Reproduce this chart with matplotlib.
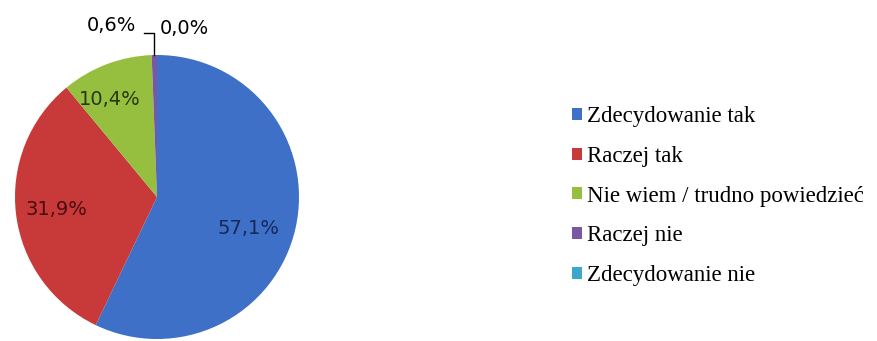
import numpy as np
import matplotlib.pyplot as plt
from matplotlib.patches import Patch

# survey answers and their shares (%)
answers = ['Zdecydowanie tak', 'Raczej tak', 'Nie wiem / trudno powiedzieć',
           'Raczej nie', 'Zdecydowanie nie']
shares = [57.1, 31.9, 10.4, 0.6, 0.0]
colors = ['#3d70c6', '#c8393a', '#97bf3f', '#7a57a3', '#3ba8ca']
label_colors = ['#16295a', '#4a0d0d', '#26380c', '#000000', '#000000']

fig = plt.figure(figsize=(8.77, 3.41), dpi=100)
fig.patch.set_facecolor('white')

# pie axes: centre ~ (157, 197) px from top, radius ~142 px
W, H = 877, 341
cx, cy, r = 157, 197, 142
ax = fig.add_axes([(cx - r) / W, (H - cy - r) / H, 2 * r / W, 2 * r / H])

wedges, _ = ax.pie(shares, colors=colors, startangle=90, counterclock=False,
                   radius=1, wedgeprops=dict(linewidth=0))
ax.set_xlim(-1, 1)
ax.set_ylim(-1, 1)
ax.set_aspect('equal')
ax.axis('off')

def fmt(v):
    return ('%.1f%%' % v).replace('.', ',')

# labels inside the three big slices (distance from centre, angle nudge)
dists = [0.68, 0.71, 0.76]
nudge = [-6, 0, 5]
for i in range(3):
    w = wedges[i]
    ang = np.deg2rad((w.theta1 + w.theta2) / 2 + nudge[i])
    ax.text(dists[i] * np.cos(ang), dists[i] * np.sin(ang), fmt(shares[i]),
            ha='center', va='center', fontsize=14, color=label_colors[i],
            family='DejaVu Sans')

# the two tiny slices get outside labels, one with a leader line
w = wedges[3]
ang = np.deg2rad((w.theta1 + w.theta2) / 2)
x0 = np.cos(ang)
ax.plot([x0, x0, -0.095], [1.0, 1.155, 1.155], color='black', lw=1,
        clip_on=False)
ax.text(-0.15, 1.205, fmt(shares[3]), ha='right', va='center', fontsize=14,
        color='black', family='DejaVu Sans')
ax.text(0.02, 1.19, fmt(shares[4]), ha='left', va='center', fontsize=14,
        color='black', family='DejaVu Sans')

handles = [Patch(facecolor=c, edgecolor='none') for c in colors]
fig.legend(handles, answers, loc='upper left',
           bbox_to_anchor=(572 / W, 1 - 106 / H),
           frameon=False, prop={'family': 'Liberation Serif', 'size': 16.5},
           handlelength=0.42, handleheight=0.42, handletextpad=0.25,
           labelspacing=0.82, borderaxespad=0, borderpad=0)

fig.savefig('out.png', dpi=100, facecolor='white')
